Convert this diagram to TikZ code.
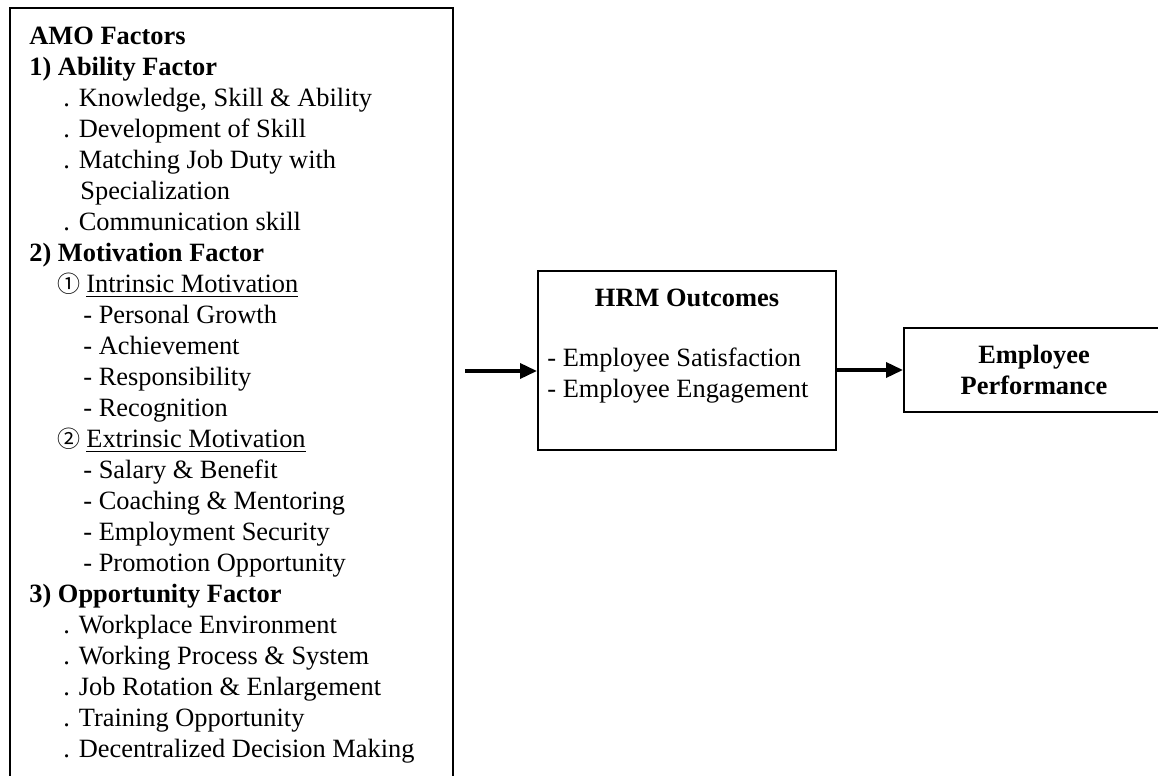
\documentclass[tikz,border=0pt]{standalone}
\usepackage{fontspec}
\setmainfont{Liberation Serif}
\newfontfamily\circfont{Noto Sans CJK SC}
\usetikzlibrary{positioning,arrows.meta}

\begin{document}
\begin{tikzpicture}[x=0.5pt, y=-0.5pt,
    every node/.style={font=\fontsize{13.2}{15.5}\selectfont},
    box/.style={draw, line width=1pt, inner sep=0pt},
    link/.style={line width=1.8pt, -{Triangle[length=8.5pt, width=7.5pt]}}]
    \useasboundingbox (0,0) rectangle (1158,776);

    % Define nodes
    \node[box, anchor=north west, minimum width=221.5pt, minimum height=400pt] (amo) at (9,7) {};
    \node[anchor=north west, inner sep=0pt, align=left] (amotext) at (29,27) {%
        \textbf{AMO Factors}\\
        \textbf{1) Ability Factor}\\
        \hspace*{17pt}. Knowledge, Skill \& Ability\\
        \hspace*{17pt}. Development of Skill\\
        \hspace*{17pt}. Matching Job Duty with\\
        \hspace*{25.5pt}Specialization\\
        \hspace*{17pt}. Communication skill\\
        \textbf{2) Motivation Factor}\\
        \hspace*{14pt}{\circfont\fontsize{11.5}{11.5}\selectfont ①}\hspace{3pt}\underline{Intrinsic Motivation}\\
        \hspace*{27pt}- Personal Growth\\
        \hspace*{27pt}- Achievement\\
        \hspace*{27pt}- Responsibility\\
        \hspace*{27pt}- Recognition\\
        \hspace*{14pt}{\circfont\fontsize{11.5}{11.5}\selectfont ②}\hspace{3pt}\underline{Extrinsic Motivation}\\
        \hspace*{27pt}- Salary \& Benefit\\
        \hspace*{27pt}- Coaching \& Mentoring\\
        \hspace*{27pt}- Employment Security\\
        \hspace*{27pt}- Promotion Opportunity\\
        \textbf{3) Opportunity Factor}\\
        \hspace*{17pt}. Workplace Environment\\
        \hspace*{17pt}. Working Process \& System\\
        \hspace*{17pt}. Job Rotation \& Enlargement\\
        \hspace*{17pt}. Training Opportunity\\
        \hspace*{17pt}. Decentralized Decision Making};

    \node[box, anchor=north west, minimum width=149pt, minimum height=89.5pt] (hrm) at (537,270) {};
    \node[anchor=north, inner sep=0pt, font=\fontsize{13.2}{15.5}\selectfont\bfseries] (hrmtitle) at ([yshift=-9.5pt]hrm.north) {HRM Outcomes};
    \node[anchor=north west, inner sep=0pt, align=left] (hrmlist) at (547,348) {%
        - Employee Satisfaction\\
        - Employee Engagement};

    \node[box, anchor=north west, minimum width=130pt, minimum height=42pt, align=center,
          font=\fontsize{13.2}{15.5}\selectfont\bfseries] (perf) at (903,327) {Employee\\Performance};

    % Draw edges
    \coordinate (start) at (465,371);
    \draw[link] (start) -- (start -| hrm.west);
    \draw[link] (hrm.east |- perf.west) -- (perf.west);
\end{tikzpicture}
\end{document}
